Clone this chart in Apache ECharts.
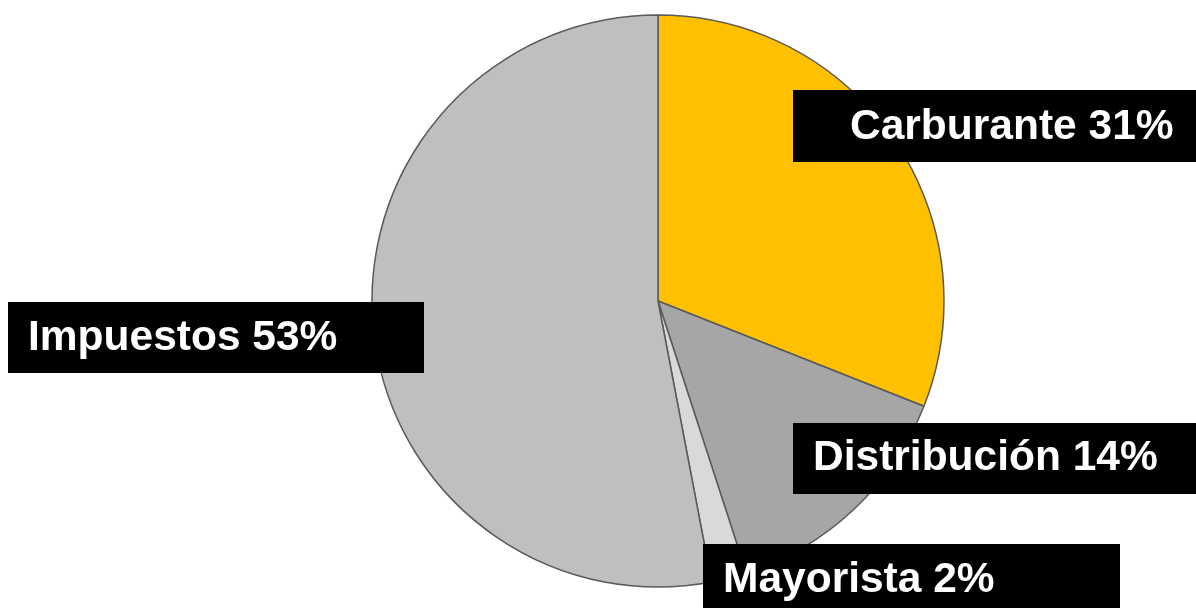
<!DOCTYPE html>
<html>
<head>
<meta charset="utf-8">
<script src="https://cdn.jsdelivr.net/npm/echarts@6/dist/echarts.min.js"></script>
<style>
html,body{margin:0;padding:0;background:#fff;}
#chart{width:1196px;height:608px;}
</style>
</head>
<body>
<div id="chart"></div>
<script>
const categories = ['Carburante', 'Distribución', 'Mayorista', 'Impuestos'];
const values = [31, 14, 2, 53];
const colors = ['#FFC000', '#A6A6A6', '#D9D9D9', '#BFBFBF'];

// label boxes (styling): [left, top, width, height, textLeft, textMiddleY]
const boxes = [
  [793, 90, 420, 72, 850, 127],
  [793, 423, 420, 71, 813, 458],
  [703, 544, 417, 72, 723, 580],
  [8, 302, 416, 71, 28, 338]
];

const graphics = [];
categories.forEach((n, i) => {
  const b = boxes[i];
  graphics.push({
    type: 'rect', z: 100,
    shape: { x: b[0], y: b[1], width: b[2], height: b[3] },
    style: { fill: '#000' }
  });
  graphics.push({
    type: 'text', z: 101,
    x: b[4], y: b[5],
    style: {
      text: n + ' ' + values[i] + '%',
      fill: '#fff',
      font: 'bold 42.5px "Liberation Sans", Arial, sans-serif',
      textAlign: 'left',
      textVerticalAlign: 'middle',
      verticalAlign: 'middle'
    }
  });
});

const chart = echarts.init(document.getElementById('chart'));
chart.setOption({
  animation: false,
  graphic: graphics,
  series: [{
    type: 'pie',
    center: [658, 301],
    radius: 286,
    startAngle: 90,
    clockwise: true,
    itemStyle: { borderColor: '#5a5a5a', borderWidth: 1.5 },
    label: { show: false },
    labelLine: { show: false },
    data: categories.map((n, i) => ({
      name: n,
      value: values[i],
      itemStyle: { color: colors[i] }
    })),
    emphasis: { disabled: true }
  }]
});
</script>
</body>
</html>
